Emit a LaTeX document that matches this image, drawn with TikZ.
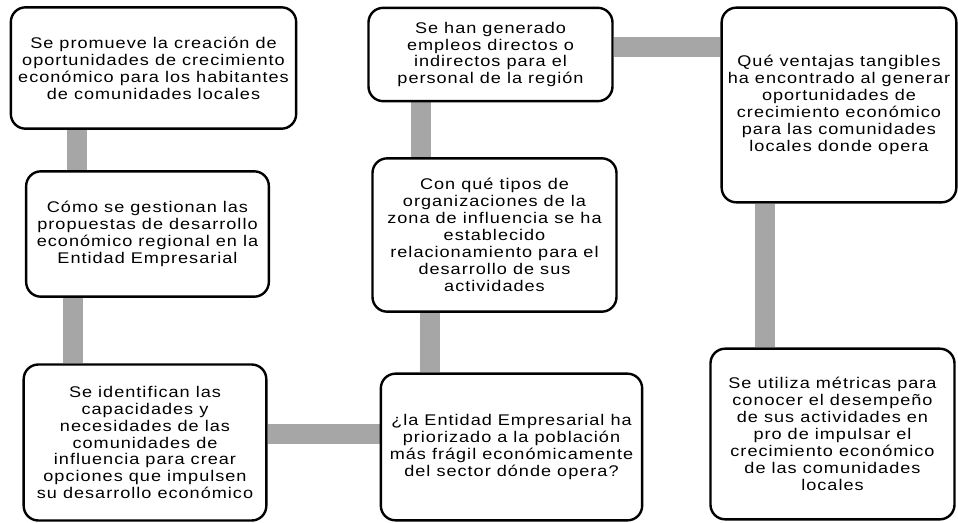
\documentclass[tikz,border=0pt]{standalone}
\usepackage{fontspec}
\setmainfont{Liberation Sans}[FakeStretch=1.17,LetterSpace=6.5]
\usepackage{tikz}
\usetikzlibrary{backgrounds}
\definecolor{gris}{HTML}{A6A6A6}

\begin{document}
\begin{tikzpicture}[x=0.75pt,y=-0.75pt,
caja/.style={draw,line width=1.8pt,rounded corners=11pt,fill=white,align=center,inner sep=0pt,
font=\fontsize{11.6}{12.7}\selectfont},
enlace/.style={draw=gris,line width=15pt}]
\useasboundingbox (0,0) rectangle (958,522);
\node[caja,minimum width=214pt,minimum height=91pt] (promueve) at (153.5,68) {Se promueve la creación de\\oportunidades de crecimiento\\económico para los habitantes\\de comunidades locales};
\node[caja,minimum width=182pt,minimum height=94pt] (gestionan) at (147.5,234) {Cómo se gestionan las\\propuestas de desarrollo\\económico regional en la\\Entidad Empresarial};
\node[caja,minimum width=182pt,minimum height=117pt] (identifican) at (145,442.5) {Se identifican las\\capacidades y\\necesidades de las\\comunidades de\\influencia para crear\\opciones que impulsen\\su desarrollo económico};
\node[caja,minimum width=196pt,minimum height=110pt] (prioriza) at (511.5,447) {¿la Entidad Empresarial ha\\priorizado a la población\\más frágil económicamente\\del sector dónde opera?};
\node[caja,minimum width=183pt,minimum height=115pt] (organiza) at (494.5,235) {Con qué tipos de\\organizaciones de la\\zona de influencia se ha\\establecido\\relacionamiento para el\\desarrollo de sus\\actividades};
\node[caja,minimum width=183pt,minimum height=70pt] (empleos) at (490.5,54.5) {Se han generado\\empleos directos o\\indirectos para el\\personal de la región};
\node[caja,minimum width=176pt,minimum height=146pt] (ventajas) at (839,105) {Qué ventajas tangibles\\ha encontrado al generar\\oportunidades de\\crecimiento económico\\para las comunidades\\locales donde opera};
\node[caja,minimum width=183pt,minimum height=128pt] (metricas) at (832.5,434) {Se utiliza métricas para\\conocer el desempeño\\de sus actividades en\\pro de impulsar el\\crecimiento económico\\de las comunidades\\locales};
\coordinate (x1) at (77,0);
\coordinate (x2) at (73,0);
\coordinate (y3) at (0,434);
\coordinate (x4) at (430,0);
\coordinate (x5) at (421,0);
\coordinate (y6) at (0,47);
\coordinate (x7) at (765,0);
\begin{scope}[on background layer]
\draw[enlace] (promueve.south -| x1) -- (gestionan.north -| x1);
\draw[enlace] (gestionan.south -| x2) -- (identifican.north -| x2);
\draw[enlace] (identifican.east |- y3) -- (prioriza.west |- y3);
\draw[enlace] (prioriza.north -| x4) -- (organiza.south -| x4);
\draw[enlace] (organiza.north -| x5) -- (empleos.south -| x5);
\draw[enlace] (empleos.east |- y6) -- (ventajas.west |- y6);
\draw[enlace] (ventajas.south -| x7) -- (metricas.north -| x7);
\end{scope}
\end{tikzpicture}
\end{document}
